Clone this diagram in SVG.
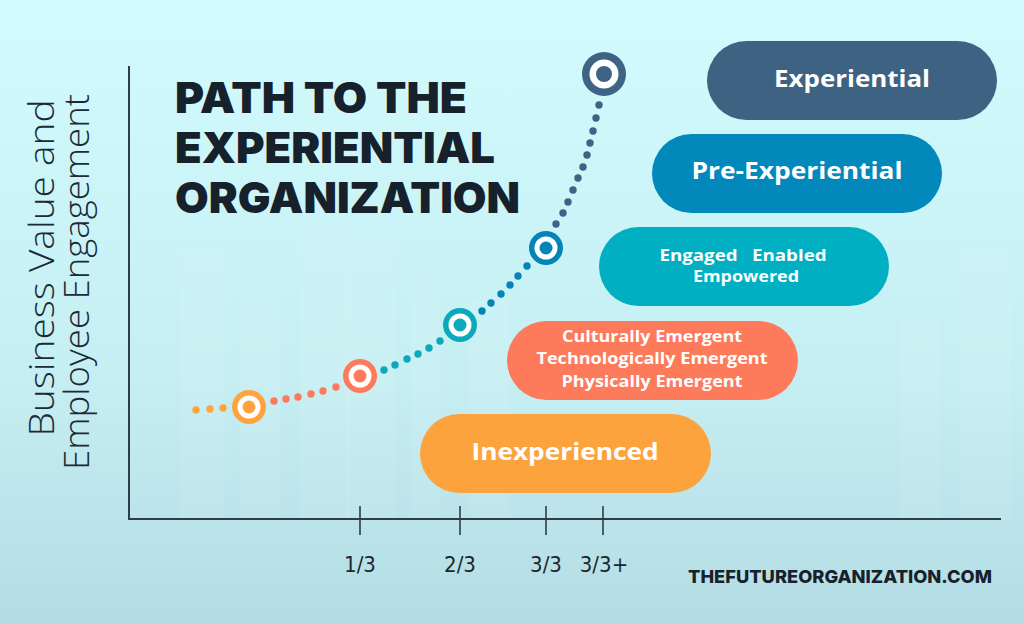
<svg xmlns="http://www.w3.org/2000/svg" width="1024" height="623" viewBox="0 0 1024 623">
<defs>
<linearGradient id="bg" x1="0" y1="0" x2="0" y2="1">
<stop offset="0" stop-color="#d1fbfd"/>
<stop offset="0.6" stop-color="#c6eff3"/>
<stop offset="1" stop-color="#b4dce4"/>
</linearGradient>
<style>
.axis{stroke:#2e3d47;stroke-width:2;fill:none}
.tick{stroke:#2e3d47;stroke-width:1.6}
.title{font-family:Inter,"Liberation Sans",sans-serif;font-weight:900;font-size:43px;fill:#16212c}
.ylab{font-family:"Open Sans","Liberation Sans",sans-serif;font-weight:300;font-size:34px;fill:#1c2a35}
.pill{font-family:"Open Sans","Liberation Sans",sans-serif;font-weight:700;fill:#ffffff;text-anchor:middle}
.big{font-size:24px}
.small{font-size:15.5px}
.tl{font-family:"Liberation Sans Narrow","DejaVu Sans Condensed","Liberation Sans",sans-serif;font-size:22px;fill:#1c2630;text-anchor:middle}
.foot{font-family:Inter,"Liberation Sans",sans-serif;font-weight:800;font-size:18px;fill:#16212c}
.ring{fill:#ffffff}
.bar{fill:#ffffff;opacity:0.07}
.d circle{r:3.7px}
.o{fill:#ffa33f}.c{fill:#fd7a5c}.t{fill:#0aa9bb}.b{fill:#0485b8}.n{fill:#3e6384}
</style>
</defs>
<rect width="1024" height="623" fill="url(#bg)"/>
<g id="background-bars">
<rect class="bar" x="180" y="250" width="45" height="270"/>
<rect class="bar" x="240" y="290" width="40" height="230"/>
<rect class="bar" x="300" y="230" width="50" height="290"/>
<rect class="bar" x="345" y="240" width="50" height="280"/>
<rect class="bar" x="410" y="270" width="30" height="250"/>
<rect class="bar" x="470" y="300" width="40" height="220"/>
<rect class="bar" x="900" y="320" width="40" height="200"/>
<rect class="bar" x="960" y="250" width="50" height="270"/>
</g>
<g id="axes">
<path class="axis" d="M129,66 V519 H1001"/>
<line class="tick" x1="360" y1="506" x2="360" y2="535"/>
<line class="tick" x1="460" y1="506" x2="460" y2="535"/>
<line class="tick" x1="546" y1="506" x2="546" y2="535"/>
<line class="tick" x1="603" y1="506" x2="603" y2="535"/>
<text class="tl" x="360" y="572">1/3</text>
<text class="tl" x="460" y="572">2/3</text>
<text class="tl" x="546" y="572">3/3</text>
<text class="tl" x="604" y="572">3/3+</text>
</g>
<g id="y-label">
<text class="ylab" text-anchor="middle" transform="translate(54,268) rotate(-90)" textLength="337" lengthAdjust="spacingAndGlyphs">Business Value and</text>
<text class="ylab" text-anchor="middle" transform="translate(89,282) rotate(-90)" textLength="376" lengthAdjust="spacingAndGlyphs">Employee Engagement</text>
</g>
<g id="title">
<text class="title" x="175" y="113" textLength="292" lengthAdjust="spacingAndGlyphs">PATH TO THE</text>
<text class="title" x="175" y="163" textLength="320" lengthAdjust="spacingAndGlyphs">EXPERIENTIAL</text>
<text class="title" x="175" y="213" textLength="345" lengthAdjust="spacingAndGlyphs">ORGANIZATION</text>
</g>
<g id="connectors" class="d">
<g class="o"><circle cx="196" cy="410"/><circle cx="210" cy="409"/><circle cx="223" cy="408"/></g>
<g class="c"><circle cx="274" cy="401"/><circle cx="286" cy="399"/><circle cx="298" cy="397"/><circle cx="311" cy="394"/><circle cx="323" cy="391"/><circle cx="336" cy="387"/></g>
<g class="t"><circle cx="384" cy="370"/><circle cx="395" cy="365"/><circle cx="407" cy="359"/><circle cx="418" cy="354"/><circle cx="429" cy="348"/><circle cx="440" cy="341"/></g>
<g class="b"><circle cx="482" cy="311"/><circle cx="491" cy="303"/><circle cx="501" cy="294"/><circle cx="510" cy="285"/><circle cx="518" cy="276"/><circle cx="527" cy="266"/></g>
<g class="n"><circle cx="556" cy="224"/><circle cx="563" cy="213"/><circle cx="568" cy="202"/><circle cx="573" cy="190"/><circle cx="578" cy="178"/><circle cx="583" cy="167"/><circle cx="587" cy="155"/><circle cx="590" cy="143"/><circle cx="593" cy="131"/><circle cx="596" cy="118"/><circle cx="599" cy="105"/></g>
</g>
<g id="node-inexperienced-point">
<circle cx="249" cy="407" r="17" fill="#ffa33f"/>
<circle class="ring" cx="249" cy="407" r="11.5"/>
<circle cx="249" cy="407" r="6.5" fill="#ffa33f"/>
</g>
<g id="node-emergent-point">
<circle cx="360" cy="376" r="17" fill="#fd7a5c"/>
<circle class="ring" cx="360" cy="376" r="11.5"/>
<circle cx="360" cy="376" r="6.5" fill="#fd7a5c"/>
</g>
<g id="node-engaged-point">
<circle cx="460" cy="325" r="17" fill="#0aa9bb"/>
<circle class="ring" cx="460" cy="325" r="11.5"/>
<circle cx="460" cy="325" r="6.5" fill="#0aa9bb"/>
</g>
<g id="node-pre-experiential-point">
<circle cx="546" cy="248" r="17" fill="#0485b8"/>
<circle class="ring" cx="546" cy="248" r="11.5"/>
<circle cx="546" cy="248" r="6.5" fill="#0485b8"/>
</g>
<g id="node-experiential-point">
<circle cx="604" cy="74" r="22" fill="#3e6384"/>
<circle class="ring" cx="604" cy="74" r="14.5"/>
<circle cx="604" cy="74" r="8" fill="#3e6384"/>
</g>
<g id="pill-experiential">
<rect x="707" y="41" width="290" height="79" rx="39.5" fill="#3d6282"/>
<text class="pill big" x="852" y="87" textLength="156" lengthAdjust="spacingAndGlyphs">Experiential</text>
</g>
<g id="pill-pre-experiential">
<rect x="652" y="134" width="290" height="79" rx="39.5" fill="#0288ba"/>
<text class="pill big" x="797" y="179" textLength="211" lengthAdjust="spacingAndGlyphs">Pre-Experiential</text>
</g>
<g id="pill-engaged">
<rect x="599" y="227" width="290" height="79" rx="39.5" fill="#00afc2"/>
<text class="pill small" x="743" y="261" textLength="167" lengthAdjust="spacingAndGlyphs" xml:space="preserve">Engaged   Enabled</text>
<text class="pill small" x="746" y="282" textLength="106" lengthAdjust="spacingAndGlyphs">Empowered</text>
</g>
<g id="pill-emergent">
<rect x="507" y="321" width="291" height="79" rx="39.5" fill="#fd7a5b"/>
<text class="pill small" x="652" y="342" textLength="180" lengthAdjust="spacingAndGlyphs">Culturally Emergent</text>
<text class="pill small" x="652" y="364" textLength="231" lengthAdjust="spacingAndGlyphs">Technologically Emergent</text>
<text class="pill small" x="652" y="387" textLength="181" lengthAdjust="spacingAndGlyphs">Physically Emergent</text>
</g>
<g id="pill-inexperienced">
<rect x="420" y="414" width="291" height="79" rx="39.5" fill="#fda33e"/>
<text class="pill big" x="565" y="460" textLength="187" lengthAdjust="spacingAndGlyphs">Inexperienced</text>
</g>
<g id="footer">
<text class="foot" x="688" y="583" textLength="304" lengthAdjust="spacingAndGlyphs">THEFUTUREORGANIZATION.COM</text>
</g>
</svg>
